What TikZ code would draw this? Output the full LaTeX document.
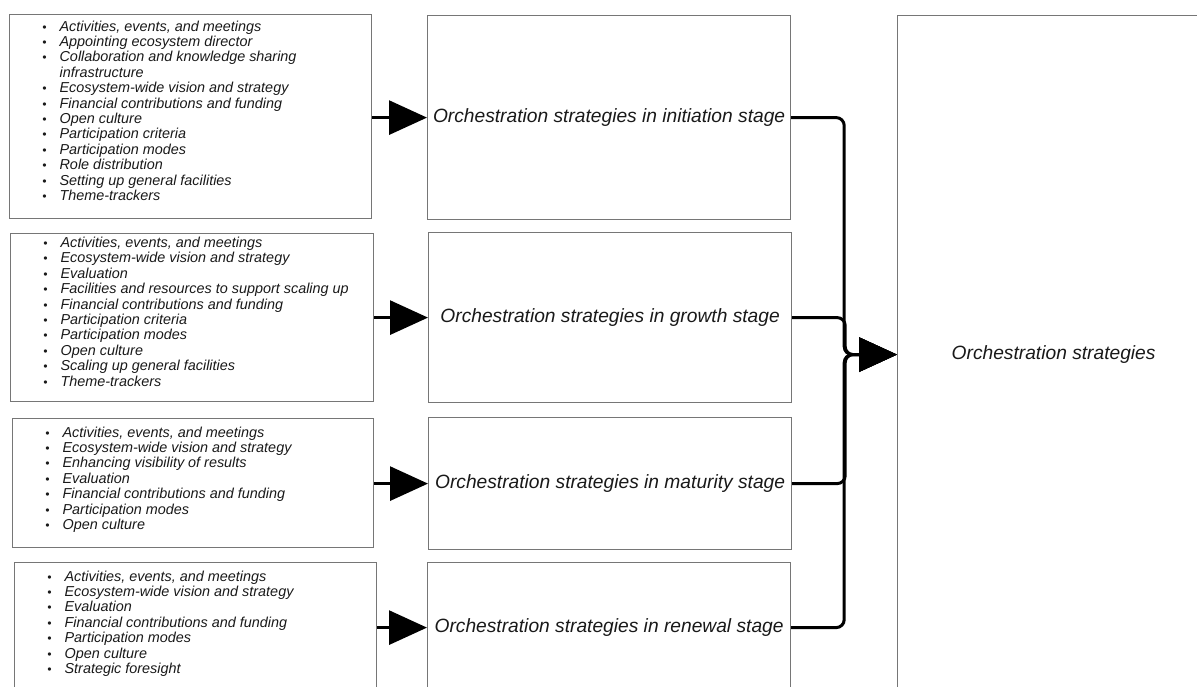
\documentclass[tikz,border=0pt]{standalone}
\usepackage{fontspec}
\setmainfont{Liberation Sans}
\usetikzlibrary{arrows.meta}

\definecolor{borde}{HTML}{767676}

% listas sin espacios extra
\makeatletter
\def\@listI{\leftmargin 50pt \labelsep 13pt \labelwidth 37pt
  \topsep\z@ \partopsep\z@ \parsep\z@ \itemsep\z@}
\let\@listi\@listI
\makeatother
\renewcommand{\labelitemi}{\fontsize{12}{12}\selectfont\textbullet}

% caja con lista: ancho, alto, margen arriba, items
\newcommand{\lista}[4]{%
  \begin{minipage}[t][#2][t]{#1}
    \vspace*{#3}
    \raggedright
    \begin{itemize}
      #4
    \end{itemize}
  \end{minipage}}

\begin{document}
\begin{tikzpicture}[x=1pt,y=-1pt,
    listabox/.style={draw=borde, line width=1.2pt, inner sep=0pt, anchor=north west,
      text=black!90, font=\fontsize{14.4}{15.4}\selectfont\itshape},
    etapa/.style={draw=borde, line width=1.2pt, anchor=north west, text=black!90,
      minimum width=363pt, font=\fontsize{19.2}{22}\selectfont\itshape},
    flecha/.style={line width=3pt, -{Triangle[length=38pt,width=34pt]}},
    conector/.style={line width=3pt, rounded corners=8pt, -{Triangle[length=38pt,width=34pt]}}]

    \useasboundingbox (0,0) rectangle (1197,686);
    \clip (0,0) rectangle (1197,686);

    % listas de la izquierda
    \node[listabox] (l1) at (9,14) {\lista{362pt}{204pt}{6pt}{
      \item Activities, events, and meetings
      \item Appointing ecosystem director
      \item Collaboration and knowledge sharing infrastructure
      \item Ecosystem-wide vision and strategy
      \item Financial contributions and funding
      \item Open culture
      \item Participation criteria
      \item Participation modes
      \item Role distribution
      \item Setting up general facilities
      \item Theme-trackers}};

    \node[listabox] (l2) at (10,233) {\lista{363pt}{168pt}{3.5pt}{
      \item Activities, events, and meetings
      \item Ecosystem-wide vision and strategy
      \item Evaluation
      \item Facilities and resources to support scaling up
      \item Financial contributions and funding
      \item Participation criteria
      \item Participation modes
      \item Open culture
      \item Scaling up general facilities
      \item Theme-trackers}};

    \node[listabox] (l3) at (12,418) {\lista{361pt}{129pt}{8pt}{
      \item Activities, events, and meetings
      \item Ecosystem-wide vision and strategy
      \item Enhancing visibility of results
      \item Evaluation
      \item Financial contributions and funding
      \item Participation modes
      \item Open culture}};

    \node[listabox] (l4) at (14,562) {\lista{362pt}{130pt}{8pt}{
      \item Activities, events, and meetings
      \item Ecosystem-wide vision and strategy
      \item Evaluation
      \item Financial contributions and funding
      \item Participation modes
      \item Open culture
      \item Strategic foresight}};

    % etapas
    \node[etapa, minimum height=204pt] (e1) at (427,15) {Orchestration strategies in initiation stage};
    \node[etapa, minimum height=170pt] (e2) at (428,232) {Orchestration strategies in growth stage};
    \node[etapa, minimum height=132pt] (e3) at (428,417) {Orchestration strategies in maturity stage};
    \node[etapa, minimum height=130pt] (e4) at (427,562) {Orchestration strategies in renewal stage};

    % caja final
    \node[etapa, minimum width=312pt, minimum height=678pt] (final) at (897,15) {Orchestration strategies};

    \draw[flecha] (l1.east |- e1.west) -- (e1.west);
    \draw[flecha] (l2.east |- e2.west) -- (e2.west);
    \draw[flecha] (l3.east |- e3.west) -- (e3.west);
    \draw[flecha] (l4.east |- e4.west) -- (e4.west);

    \draw[conector] (e1.east) -- ++(53,0) |- (final.west);
    \draw[conector] (e2.east) -- ++(53,0) |- (final.west);
    \draw[conector] (e3.east) -- ++(53,0) |- (final.west);
    \draw[conector] (e4.east) -- ++(53,0) |- (final.west);

\end{tikzpicture}
\end{document}
